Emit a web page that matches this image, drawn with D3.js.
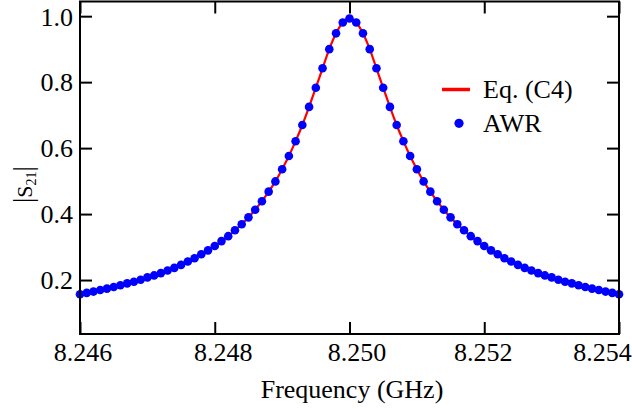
<!DOCTYPE html>
<html><head><meta charset="utf-8">
<script src="https://cdn.jsdelivr.net/npm/d3@7"></script>
<style>
html,body{margin:0;padding:0;background:#fff;overflow:hidden}
svg{display:block}
text{font-family:"Liberation Serif","Times New Roman",serif;fill:#000}
</style></head>
<body>
<svg id="chart" width="632" height="409"></svg>
<script>
// Frequencies (GHz): 8.2460 ... 8.2540, step 0.0001
const freqStart = 8.246, freqStep = 0.0001, nPoints = 81;
const frequencies = d3.range(nPoints).map(i => +(freqStart + i * freqStep).toFixed(4));
// AWR simulated |S21|
const awr = [
  0.157,0.161,0.165,0.170,0.174,0.179,0.184,0.190,0.195,0.201,
  0.208,0.214,0.221,0.229,0.237,0.246,0.256,0.266,0.278,0.290,
  0.303,0.318,0.333,0.351,0.369,0.390,0.413,0.439,0.468,0.499,
  0.536,0.576,0.621,0.670,0.725,0.783,0.842,0.900,0.948,0.981,
  0.993,
  0.981,0.948,0.900,0.842,0.783,0.725,0.670,0.621,0.576,0.536,
  0.499,0.468,0.439,0.413,0.390,0.369,0.351,0.333,0.318,0.303,
  0.290,0.278,0.266,0.256,0.246,0.237,0.229,0.221,0.214,0.208,
  0.201,0.195,0.190,0.184,0.179,0.174,0.170,0.165,0.161,0.157
];
// Eq. (C4) curve
const eqC4 = awr.slice();
const xTicks = [8.246, 8.248, 8.250, 8.252, 8.254];
const yTicks = [0.2, 0.4, 0.6, 0.8, 1.0];
const legendLabels = ["Eq. (C4)", "AWR"];

const svg = d3.select("#chart");
const L = 80, R = 619, T = 1.5, B = 334;
const x = d3.scaleLinear().domain([8.246, 8.254]).range([L, R]);
const y = d3.scaleLinear().domain([0.0364, 1.0445]).range([B, T]);

const g = svg.append("g");
// line
const line = d3.line().x((d, i) => x(frequencies[i])).y(d => y(d)).curve(d3.curveMonotoneX);
g.append("path").datum(eqC4).attr("d", line)
  .attr("fill", "none").attr("stroke", "#ff0000").attr("stroke-width", 2.2);
// dots
g.selectAll("circle.pt").data(awr).join("circle").attr("class", "pt")
  .attr("cx", (d, i) => x(frequencies[i])).attr("cy", d => y(d))
  .attr("r", 4.3).attr("fill", "#0000ff");

// axes (ticks inward)
const tl = 12;
const fmtX = d3.format(".3f"), fmtY = d3.format(".1f");
const axB = d3.axisBottom(x).tickValues(xTicks).tickSizeInner(-tl).tickSizeOuter(0).tickFormat(fmtX).tickPadding(14);
const axT = d3.axisTop(x).tickValues(xTicks).tickSizeInner(-tl).tickSizeOuter(0).tickFormat("");
const axL = d3.axisLeft(y).tickValues(yTicks).tickSizeInner(-tl).tickSizeOuter(0).tickFormat(fmtY).tickPadding(7);
const axR = d3.axisRight(y).tickValues(yTicks).tickSizeInner(-tl).tickSizeOuter(0).tickFormat("");

function style(sel) {
  sel.select(".domain").remove();
  sel.selectAll(".tick line").attr("stroke", "#000").attr("stroke-width", 2);
  sel.selectAll(".tick text").style("font-family", '"Liberation Serif","Times New Roman",serif')
    .style("font-size", "26px").attr("fill", "#000");
}
// horizontal nudges of the x tick labels, as placed in the original figure
const xLabelNudge = [2.5, 8, 7, -1.5, -17];
svg.append("g").attr("transform", `translate(0,${B})`).call(axB).call(style)
  .selectAll(".tick text").attr("dy", null).attr("y", 26.7)
  .attr("x", (d, i) => xLabelNudge[i]);
svg.append("g").attr("transform", `translate(0,${T})`).call(axT).call(style);
svg.append("g").attr("transform", `translate(${L},0)`).call(axL).call(style)
  .selectAll(".tick text").attr("dy", "0.34em");
svg.append("g").attr("transform", `translate(${R},0)`).call(axR).call(style);

// frame
svg.append("rect").attr("x", L).attr("y", T).attr("width", R - L).attr("height", B - T)
  .attr("fill", "none").attr("stroke", "#000").attr("stroke-width", 2);

// x label
svg.append("text").attr("x", 352).attr("y", 398).attr("text-anchor", "middle")
  .style("font-size", "26px").text("Frequency (GHz)");
// y label
const yl = svg.append("text").attr("transform", "translate(32,184.5) rotate(-90)")
  .attr("text-anchor", "middle").style("font-size", "22px");
yl.append("tspan").style("font-size", "27px").text("|");
yl.append("tspan").text("S");
yl.append("tspan").attr("dy", 4).style("font-size", "14px").text("21");
yl.append("tspan").attr("dy", -4).style("font-size", "27px").text("|");

// legend
const lg = svg.append("g");
lg.append("line").attr("x1", 442).attr("x2", 470).attr("y1", 89.5).attr("y2", 89.5)
  .attr("stroke", "#ff0000").attr("stroke-width", 3.5);
lg.append("circle").attr("cx", 459).attr("cy", 123.3).attr("r", 4.6).attr("fill", "#0000ff");
lg.selectAll("text").data(legendLabels).join("text")
  .attr("x", 483).attr("y", (d, i) => 97.5 + i * 34)
  .style("font-size", "26px").text(d => d);
</script>
</body></html>
